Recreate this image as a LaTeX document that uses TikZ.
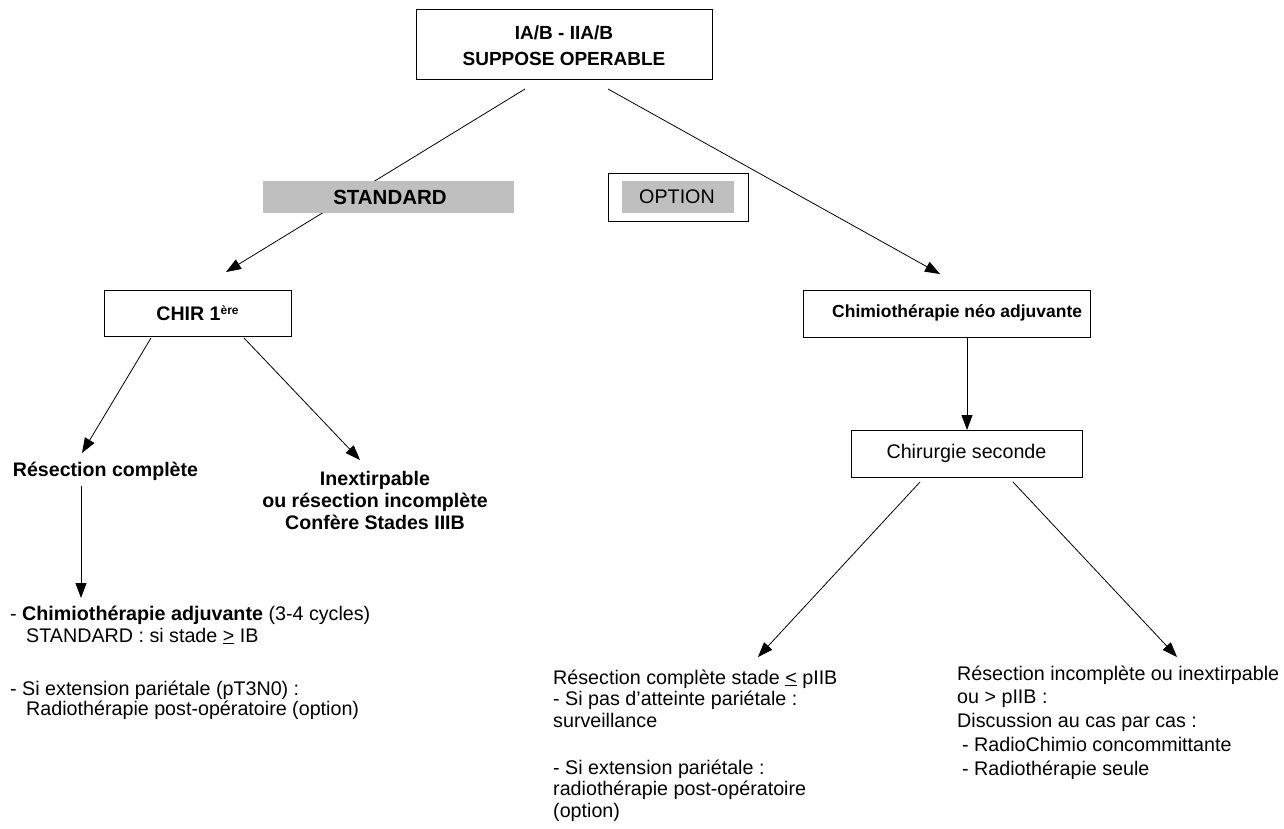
\documentclass[tikz,border=0pt]{standalone}
\usepackage{fontspec}
\setmainfont{Liberation Sans}
\usetikzlibrary{arrows.meta}
\begin{document}
\begin{tikzpicture}[x=1pt,y=-1pt,
  every node/.style={font=\fontsize{19.7}{22}\selectfont, inner sep=0pt},
  box/.style={draw, line width=0.9pt, fill=white},
  greybar/.style={fill=black!25, draw=none},
  link/.style={line width=0.8pt, -{Triangle[length=15pt,width=11pt]}},
  txt/.style={align=left, anchor=base west}]
\useasboundingbox (0,0) rectangle (1284,828);

% connector end points
\coordinate (a1) at (525,89);   \coordinate (a1e) at (226,272);
\coordinate (a2) at (608,89);   \coordinate (a2e) at (940,274);
\coordinate (b1) at (151,338);  \coordinate (b1e) at (82,453);
\coordinate (b2) at (244,338);  \coordinate (b2e) at (360,460);
\coordinate (c1) at (81,486);   \coordinate (c1e) at (81,598);
\coordinate (d1) at (967,337);  \coordinate (d1e) at (967,430);
\coordinate (e1) at (920,482);  \coordinate (e1e) at (758,657);
\coordinate (e2) at (1013,482); \coordinate (e2e) at (1177,657);

% lines from the top box (the left one runs behind the grey bar)
\draw[link] (a1) -- (a1e);
\draw[link] (a2) -- (a2e);

% top box
\node[box, minimum width=296pt, minimum height=70pt] (top) at (564,44) {};
\node[align=center, anchor=base, font=\fontsize{19}{26}\selectfont\bfseries] (toptxt) at (564,65)
  {IA/B - IIA/B\\SUPPOSE OPERABLE};

% STANDARD / OPTION labels
\node[greybar, minimum width=251pt, minimum height=32pt] (stdbar) at (388.5,197) {};
\node[font=\fontsize{20.5}{22}\selectfont\bfseries] (std) at (390,197) {STANDARD};
\node[box, minimum width=140pt, minimum height=48pt] (optbox) at (678,197) {};
\node[greybar, minimum width=112pt, minimum height=32pt] (optbar) at (678,197) {};
\node (opt) at (677,197) {OPTION};

% first level boxes
\node[box, minimum width=187pt, minimum height=46pt,
      font=\fontsize{19.6}{22}\selectfont\bfseries] (chir) at (197.5,313)
  {CHIR 1\raisebox{6pt}{\fontsize{12}{12}\selectfont ère}};
\node[box, minimum width=287pt, minimum height=47pt] (neo) at (946.5,313.5) {};
\node[anchor=west, font=\fontsize{17.5}{22}\selectfont\bfseries] (neotxt) at (832,313)
  {Chimiothérapie néo adjuvante};
\node[box, minimum width=231pt, minimum height=47pt] (chirsec) at (966.5,453.5)
  {Chirurgie seconde};

% outcomes after first surgery
\node[font=\fontsize{19.6}{22}\selectfont\bfseries] (rescomp) at (105.5,471)
  {Résection complète};
\node[align=center, anchor=base, font=\fontsize{19.6}{22}\selectfont\bfseries] (inex) at (375,529)
  {Inextirpable\\ou résection incomplète\\Confère Stades IIIB};

\node[txt, font=\fontsize{19.7}{22}\selectfont] (adj) at (10,642)
  {- \textbf{Chimiothérapie adjuvante} (3-4 cycles)\\
   \hspace*{16pt}STANDARD : si stade \underline{>} IB};
\node[txt, font=\fontsize{19.7}{20}\selectfont] (pariet) at (10,715)
  {- Si extension pariétale (pT3N0) :\\
   \hspace*{16pt}Radiothérapie post-opératoire (option)};

% outcomes after second surgery
\node[txt, font=\fontsize{19.7}{21.5}\selectfont] (comp) at (553,727)
  {Résection complète stade \underline{<} pIIB\\
   - Si pas d'atteinte pariétale :\\
   surveillance};
\node[txt, font=\fontsize{19.7}{21.5}\selectfont] (ext) at (553,817)
  {- Si extension pariétale :\\
   radiothérapie post-opératoire\\
   (option)};
\node[txt, font=\fontsize{19.7}{23.75}\selectfont] (incomp) at (957,775)
  {Résection incomplète ou inextirpable\\
   ou > pIIB :\\
   Discussion au cas par cas :\\
   \hspace*{5pt}- RadioChimio concommittante\\
   \hspace*{5pt}- Radiothérapie seule};

% remaining connectors
\draw[link] (b1) -- (b1e);
\draw[link] (b2) -- (b2e);
\draw[link] (c1) -- (c1e);
\draw[link] (d1) -- (d1e);
\draw[link] (e1) -- (e1e);
\draw[link] (e2) -- (e2e);
\end{tikzpicture}
\end{document}
